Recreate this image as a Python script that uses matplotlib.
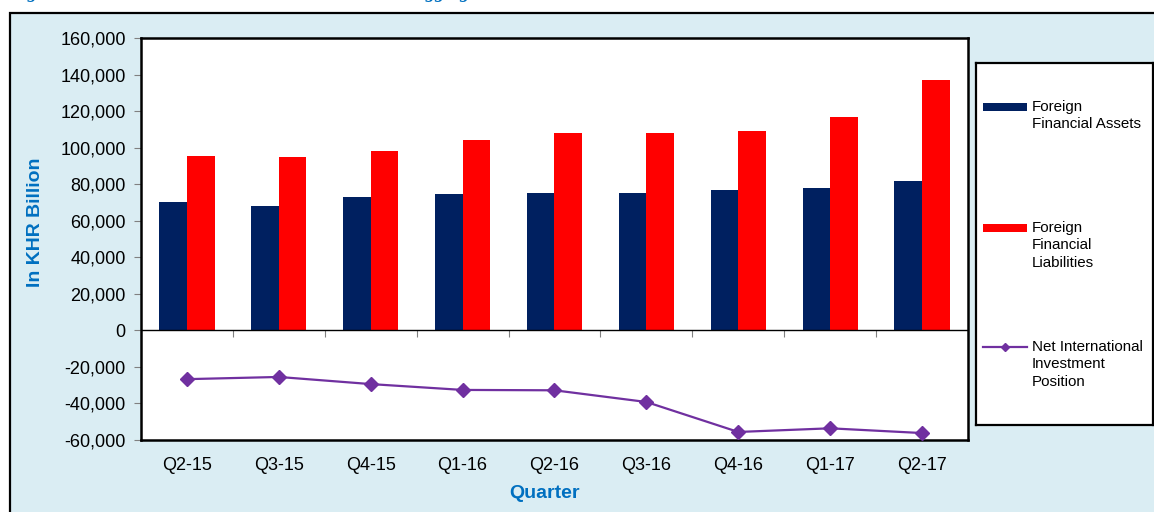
"""Foreign financial assets / liabilities and NIIP by quarter."""

import matplotlib
matplotlib.use("Agg")
import matplotlib.pyplot as plt
from matplotlib.patches import Rectangle
from matplotlib.lines import Line2D
import numpy as np

quarters = ["Q2-15", "Q3-15", "Q4-15", "Q1-16", "Q2-16",
            "Q3-16", "Q4-16", "Q1-17", "Q2-17"]
assets = [70300, 68000, 72900, 74500, 75100, 75100, 76600, 77800, 81700]
liabilities = [95300, 94700, 98200, 104000, 107800, 107800, 109300, 116700, 137000]
niip = [-26700, -25500, -29400, -32600, -32800, -39200, -55600, -53600, -56200]

series_labels = ["Foreign\nFinancial Assets",
                 "Foreign\nFinancial\nLiabilities",
                 "Net International\nInvestment\nPosition"]
yticks = np.arange(-60000, 160001, 20000)

NAVY = "#002060"
RED = "#ff0000"
PURPLE = "#7030a0"
BLUE_TXT = "#0070c0"
BG = "#daedf3"

plt.rcParams.update({
    "font.family": ["Liberation Sans", "DejaVu Sans"],
    "font.size": 13,
    "axes.unicode_minus": False,
})

W, H = 1154, 512
fig = plt.figure(figsize=(W / 100, H / 100), dpi=100)
fig.patch.set_facecolor("white")

# outer blue panel (top-left corner visible, rest runs off the page)
fig.patches.append(Rectangle((10 / W, -0.1), 1.2, 1 - 13 / H + 0.1,
                             transform=fig.transFigure, facecolor=BG,
                             edgecolor="black", linewidth=1.6, zorder=-5))

# title mostly cut off at the top of the image
fig.text(10 / W, 1 + 1.5 / H,
         "Figure 14: Net International Investment Position in aggregate",
         color=BLUE_TXT, fontsize=13.5, fontweight="bold", fontstyle="italic",
         family="Liberation Serif", va="baseline", ha="left")

ax = fig.add_axes([141 / W, 1 - 440 / H, 827 / W, 402 / H])
ax.set_zorder(2)
ax.set_facecolor("white")

x = np.arange(len(quarters))
bw = 0.3
ax.bar(x - bw / 2, assets, bw, color=NAVY, zorder=2)
ax.bar(x + bw / 2, liabilities, bw, color=RED, zorder=2)
ax.plot(x, niip, color=PURPLE, linewidth=1.6, marker="D", markersize=7,
        zorder=3)

ax.set_xlim(-0.5, len(quarters) - 0.5)
ax.set_ylim(-60000, 160000)
ax.set_yticks(yticks)
ax.yaxis.set_major_formatter(matplotlib.ticker.StrMethodFormatter("{x:,.0f}"))
ax.tick_params(axis="y", direction="out", length=5, color="#808080", pad=6)
ax.set_xticks(x)
ax.set_xticklabels(quarters)
ax.tick_params(axis="x", length=0, pad=12)
for s in ax.spines.values():
    s.set_linewidth(1.8)
    s.set_color("black")

# zero line with tick marks at category boundaries
ax.axhline(0, color="black", linewidth=1.0, zorder=4)
zero_frac = (0 - ax.get_ylim()[0]) / (ax.get_ylim()[1] - ax.get_ylim()[0])
sec = ax.secondary_xaxis(zero_frac)
sec.set_xticks(np.arange(0.5, len(quarters) - 0.5, 1.0))
sec.set_xticklabels([])
sec.tick_params(length=5, color="#808080", direction="out")
sec.spines["bottom"].set_visible(False)

fig.text(35 / W, 1 - 222 / H, "In KHR Billion", rotation=90, color=BLUE_TXT,
         fontweight="bold", fontsize=14, ha="center", va="center")
fig.text(545 / W, 1 - 493 / H, "Quarter", color=BLUE_TXT,
         fontweight="bold", fontsize=14, ha="center", va="center")

# legend box
lg = fig.add_axes([976 / W, 1 - 425 / H, 177 / W, 362 / H])
lg.set_zorder(2)
lg.set_xlim(0, 177)
lg.set_ylim(362, 0)
lg.set_xticks([])
lg.set_yticks([])
lg.set_facecolor("white")
for s in lg.spines.values():
    s.set_linewidth(1.6)
    s.set_color("black")

entry_y = [44, 165, 284]
for i, (lab, yy) in enumerate(zip(series_labels, entry_y)):
    if i < 2:
        lg.add_patch(Rectangle((7, yy - 4), 44, 8,
                               facecolor=[NAVY, RED][i], edgecolor="none"))
    else:
        lg.add_line(Line2D([7, 29, 51], [yy, yy, yy], color=PURPLE,
                           linewidth=1.6, marker="D", markersize=4,
                           markevery=[1]))
    lg.text(56, yy - 7, lab, fontsize=10.9, va="top", ha="left",
            linespacing=1.3)

plt.savefig("out.png", dpi=100)
plt.close()
